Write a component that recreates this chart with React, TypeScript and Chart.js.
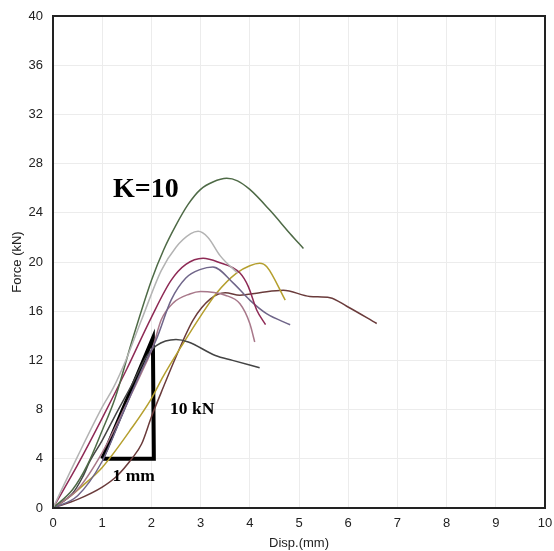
import React, { useEffect, useRef } from "react";
import { Chart, registerables } from "chart.js";

Chart.register(...registerables);

const xTicks = [0, 1, 2, 3, 4, 5, 6, 7, 8, 9, 10];
const yTicks = [0, 4, 8, 12, 16, 20, 24, 28, 32, 36, 40];

const grayX = [0, 0.5, 1.0, 1.23, 1.5, 1.8, 2.2, 2.5, 2.8, 2.95, 3.15, 3.4, 3.75];
const grayY = [0, 4.2, 8.2, 9.8, 12.2, 15.3, 19.3, 21.2, 22.3, 22.5, 22.0, 20.5, 19.1];

const greenX = [0, 0.4, 0.7, 1.0, 1.26, 1.6, 2.0, 2.25, 2.5, 2.75, 3.0, 3.25, 3.53, 3.75, 4.0, 4.41, 4.82, 5.09];
const greenY = [0, 1.5, 3.5, 6.3, 8.9, 13.5, 18.5, 21.0, 23.0, 24.7, 25.9, 26.5, 26.8, 26.6, 25.9, 24.2, 22.3, 21.1];

const crimsonX = [0, 0.5, 1.0, 1.5, 2.0, 2.4, 2.7, 3.05, 3.35, 3.8, 3.97, 4.14, 4.32];
const crimsonY = [0, 3.5, 7.3, 11.3, 15.5, 18.5, 19.8, 20.3, 20.0, 19.1, 18.0, 16.1, 14.9];

const purpleX = [0, 0.5, 1.0, 1.4, 1.8, 2.1, 2.4, 2.7, 3.0, 3.25, 3.66, 4.0, 4.34, 4.82];
const purpleY = [0, 1.0, 3.8, 7.5, 11.2, 13.7, 16.9, 18.7, 19.4, 19.6, 18.3, 16.9, 15.8, 14.9];

const mauveX = [0, 0.5, 1.0, 1.5, 1.8, 2.03, 2.2, 2.45, 2.78, 3.0, 3.5, 3.8, 4.0, 4.1];
const mauveY = [0, 1.5, 4.5, 8.5, 11, 13.1, 15.3, 16.7, 17.4, 17.6, 17.3, 16.6, 15.0, 13.5];

const darkX = [0, 0.4, 0.6, 0.75, 1.0, 1.3, 1.6, 1.9, 2.1, 2.5, 2.75, 3.3, 3.65, 4.2];
const darkY = [0, 1.2, 2.5, 3.8, 5.5, 7.8, 10, 12.3, 13.2, 13.7, 13.5, 12.4, 12.0, 11.4];

const oliveX = [0, 0.3, 0.6, 1.0, 1.6, 2.0, 2.24, 2.65, 3.0, 3.33, 3.73, 4.0, 4.2, 4.35, 4.72];
const oliveY = [0, 0.8, 1.8, 3.3, 6.5, 8.9, 10.7, 13.4, 15.6, 17.5, 19.1, 19.7, 19.9, 19.6, 16.9];

const brownX = [0, 0.5, 1.0, 1.3, 1.6, 1.8, 2.0, 2.2, 2.5, 2.85, 3.2, 3.5, 3.8, 4.2, 4.68, 5.22, 5.63, 5.97, 6.58];
const brownY = [0, 0.7, 1.7, 2.6, 4.0, 5.2, 7.4, 9.4, 12.3, 15.3, 17.0, 17.5, 17.3, 17.5, 17.7, 17.2, 17.1, 16.4, 15.0];

const triangleX = [1.0, 2.05, 2.03, 1.0];
const triangleY = [4, 4, 13.8, 4];

const labels = [
  { text: "K=10", x: 1.22, y: 25.85, size: 28 },
  { text: "10 kN", x: 2.38, y: 7.97, size: 17.5 },
  { text: "1 mm", x: 1.21, y: 2.54, size: 17.5 },
];

const pts = (xs: number[], ys: number[]) => xs.map((x, i) => ({ x, y: ys[i] }));

const curve = (xs: number[], ys: number[], color: string) => ({
  data: pts(xs, ys),
  borderColor: color,
  borderWidth: 1.5,
  pointRadius: 0,
  cubicInterpolationMode: "monotone",
  fill: false,
});

const textPlugin = {
  id: "textLabels",
  afterDatasetsDraw(chart: any) {
    const { ctx, scales } = chart;
    ctx.save();
    ctx.fillStyle = "#000";
    ctx.textAlign = "left";
    ctx.textBaseline = "middle";
    labels.forEach((l) => {
      ctx.font = `bold ${l.size}px "Liberation Serif", "DejaVu Serif", serif`;
      ctx.fillText(l.text, scales.x.getPixelForValue(l.x), scales.y.getPixelForValue(l.y));
    });
    ctx.restore();
  },
};

const borderPlugin = {
  id: "frame",
  afterDraw(chart: any) {
    const { ctx, chartArea } = chart;
    ctx.save();
    ctx.strokeStyle = "#222";
    ctx.lineWidth = 2;
    ctx.strokeRect(chartArea.left, chartArea.top, chartArea.right - chartArea.left, chartArea.bottom - chartArea.top);
    ctx.restore();
  },
};

export default function App() {
  const ref = useRef<HTMLCanvasElement>(null);
  useEffect(() => {
    const tickFont = { family: '"Liberation Sans", Arial, sans-serif', size: 13 };
    const titleFont = { family: '"Liberation Sans", Arial, sans-serif', size: 13 };
    const chart = new Chart(ref.current as HTMLCanvasElement, {
      type: "line",
      data: {
        datasets: [
          curve(grayX, grayY, "#b3b3b3"),
          curve(greenX, greenY, "#4e6a46"),
          curve(crimsonX, crimsonY, "#8e2a55"),
          curve(purpleX, purpleY, "#6f6589"),
          curve(mauveX, mauveY, "#a8788a"),
          curve(darkX, darkY, "#444444"),
          curve(oliveX, oliveY, "#b59f2e"),
          curve(brownX, brownY, "#6a3b3b"),
          {
            data: pts(triangleX, triangleY),
            borderColor: "#000",
            borderWidth: 4,
            pointRadius: 0,
            tension: 0,
            fill: false,
            borderJoinStyle: "miter",
          } as any,
        ],
      },
      options: {
        responsive: false,
        animation: false,
        layout: { padding: { top: 16, right: 9, left: 0, bottom: 0 } },
        plugins: { legend: { display: false }, tooltip: { enabled: false } },
        scales: {
          x: {
            type: "linear",
            min: 0,
            max: 10,
            afterBuildTicks: (s: any) => {
              s.ticks = xTicks.map((v) => ({ value: v }));
            },
            afterFit: (s: any) => {
              s.height = 43;
              s.paddingLeft = 0;
              s.paddingRight = 0;
            },
            grid: { color: "#ececec", drawTicks: false },
            border: { display: false },
            ticks: { color: "#222", font: tickFont, padding: 8 },
            title: {
              display: true,
              text: "Disp.(mm)",
              color: "#222",
              font: titleFont,
              padding: { top: 2, bottom: 0 },
            },
          },
          y: {
            type: "linear",
            min: 0,
            max: 40,
            afterBuildTicks: (s: any) => {
              s.ticks = yTicks.map((v) => ({ value: v }));
            },
            afterFit: (s: any) => {
              s.width = 53;
              s.paddingTop = 0;
              s.paddingBottom = 0;
            },
            grid: { color: "#ececec", drawTicks: false },
            border: { display: false },
            ticks: { color: "#222", font: tickFont, padding: 10 },
            title: {
              display: true,
              text: "Force (kN)",
              color: "#222",
              font: titleFont,
              padding: { top: 10, bottom: 0 },
            },
          },
        },
      },
      plugins: [textPlugin, borderPlugin],
    });
    return () => chart.destroy();
  }, []);
  return (
    <div style={{ position: "fixed", left: 0, top: 0, width: 554, height: 551, background: "#fff" }}>
      <canvas ref={ref} width={554} height={551} />
    </div>
  );
}
